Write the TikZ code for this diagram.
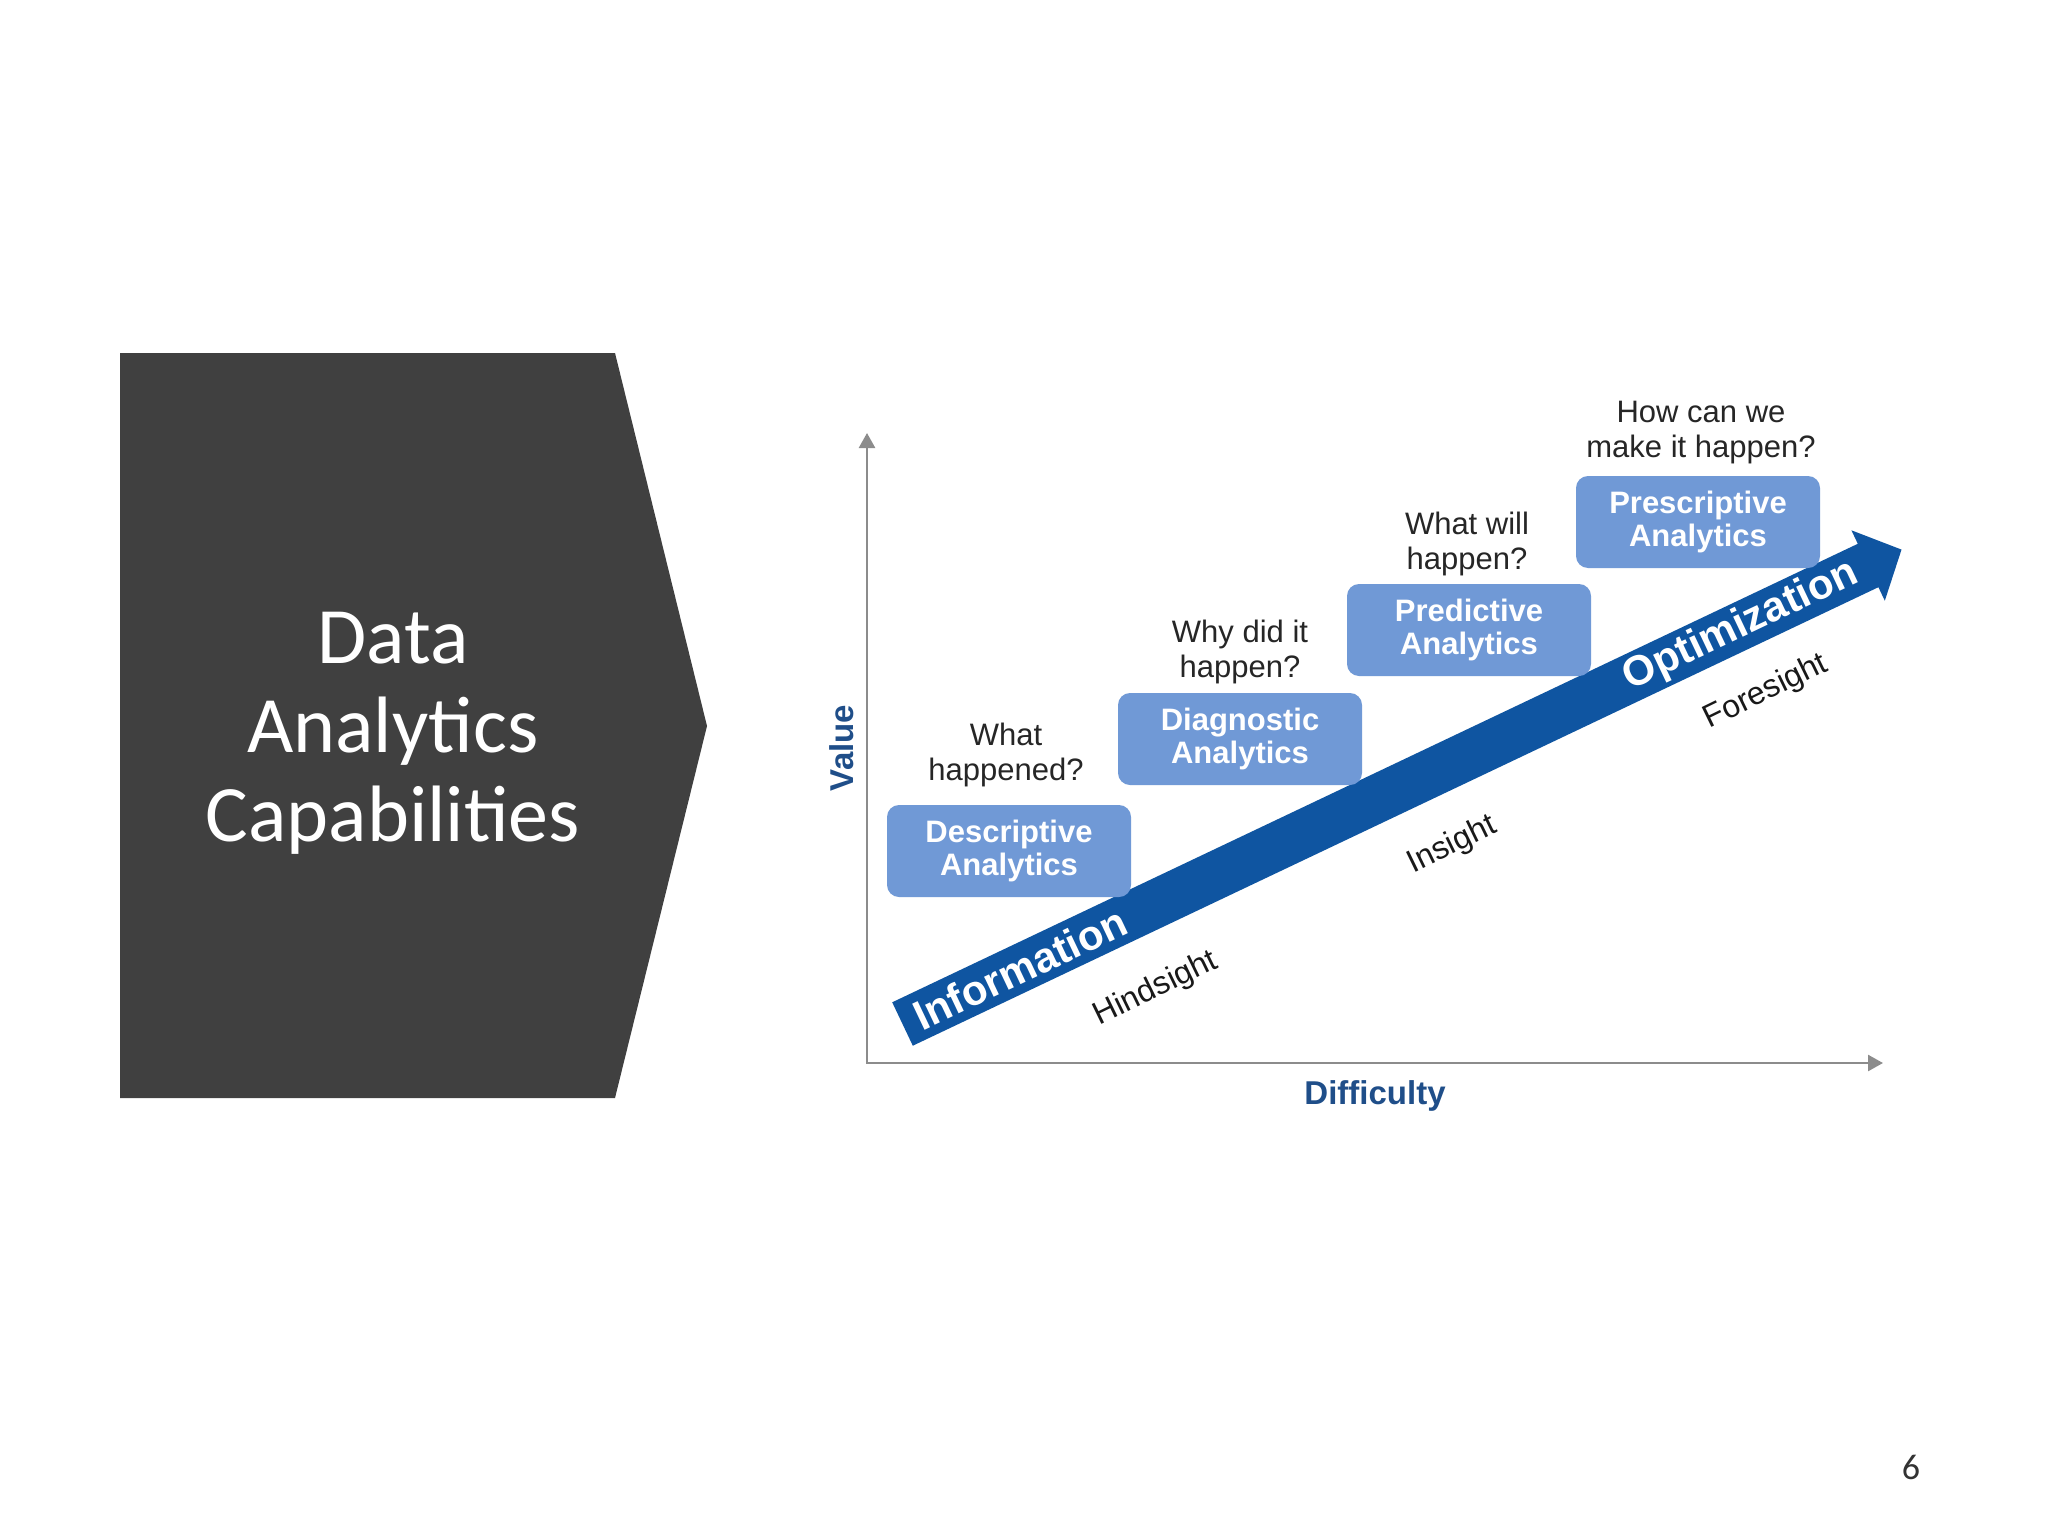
\documentclass[tikz,border=0pt]{standalone}
\usepackage{fontspec}
\setmainfont{Liberation Sans}
\newfontfamily\titlefont{Carlito}
\usetikzlibrary{arrows.meta}
\definecolor{panel}{HTML}{404040}
\definecolor{band}{HTML}{0F55A1}
\definecolor{boxfill}{HTML}{7099D6}
\definecolor{axisgray}{HTML}{8C8C8C}
\definecolor{axislabel}{HTML}{1F4E89}
\definecolor{qtext}{HTML}{262626}
\begin{document}
\begin{tikzpicture}[x=1pt,y=-1pt,
  capbox/.style={fill=boxfill, rounded corners=12pt, minimum width=244pt, minimum height=92pt,
    text=white, font=\fontsize{31}{33}\selectfont\bfseries, align=center, inner sep=0pt},
  question/.style={text=qtext, font=\fontsize{31}{35}\selectfont, align=center, inner sep=0pt},
  sight/.style={text=black!90, font=\fontsize{32}{36}\selectfont, rotate=26, inner sep=0pt},
  bandlabel/.style={text=white, font=\fontsize{42}{48}\selectfont\bfseries, rotate=25.4, inner sep=0pt},
  axislbl/.style={text=axislabel, font=\fontsize{33}{36}\selectfont\bfseries, inner sep=0pt},
  axisline/.style={draw=axisgray, line width=2.5pt,
    {Triangle[length=15pt,width=16pt]}-{Triangle[length=15pt,width=16pt]}},
  titleline/.style={text=white, font=\titlefont\fontsize{80}{89}\selectfont, anchor=base, inner sep=0pt}]

\useasboundingbox[fill=white] (0,0) rectangle (2048,1536);

% left panel
\fill[panel] (120,353) -- (615,353) -- (707,726) -- (615,1098) -- (120,1098) -- cycle;
\node[titleline] (title1) at (393,663) {Data};
\node[titleline] (title2) at (393,752) {Analytics};
\node[titleline] (title3) at (393,841) {Capabilities};

% axes
\coordinate (ytop) at (867,433);
\coordinate (origin) at (867,1063);
\coordinate (xend) at (1883,1063);
\draw[axisline] (ytop) -- (origin) -- (xend);
\node[axislbl, rotate=90] (value) at (842,748) {Value};
\node[axislbl] (difficulty) at (1375,1096) {Difficulty};

% big arrow
\fill[band] (892.2,1002.3) -- (1857.8,543.8) -- (1851.4,530.3) -- (1901.5,549.6)
  -- (1884.8,600.7) -- (1878.4,587.2) -- (912.8,1045.7) -- cycle;
\node[bandlabel] (information) at (1020,968) {Information};
\node[bandlabel] (optimization) at (1741,626) {Optimization};

% sight labels
\node[sight] (hindsight) at (1156,989) {Hindsight};
\node[sight] (insight) at (1452,845) {Insight};
\node[sight] (foresight) at (1766,692) {Foresight};

% capability boxes
\node[capbox] (descriptive) at (1009,851) {Descriptive\\Analytics};
\node[capbox] (diagnostic) at (1240,739) {Diagnostic\\Analytics};
\node[capbox] (predictive) at (1469,630) {Predictive\\Analytics};
\node[capbox] (prescriptive) at (1698,522) {Prescriptive\\Analytics};

% questions
\node[question] (q1) at (1006,755) {What\\happened?};
\node[question] (q2) at (1240,652) {Why did it\\happen?};
\node[question] (q3) at (1467,544) {What will\\happen?};
\node[question] (q4) at (1701,433) {How can we\\make it happen?};

% page number
\node[text=black!80, font=\titlefont\fontsize{36}{40}\selectfont, inner sep=0pt] (pagenum) at (1911,1467) {6};
\end{tikzpicture}
\end{document}
